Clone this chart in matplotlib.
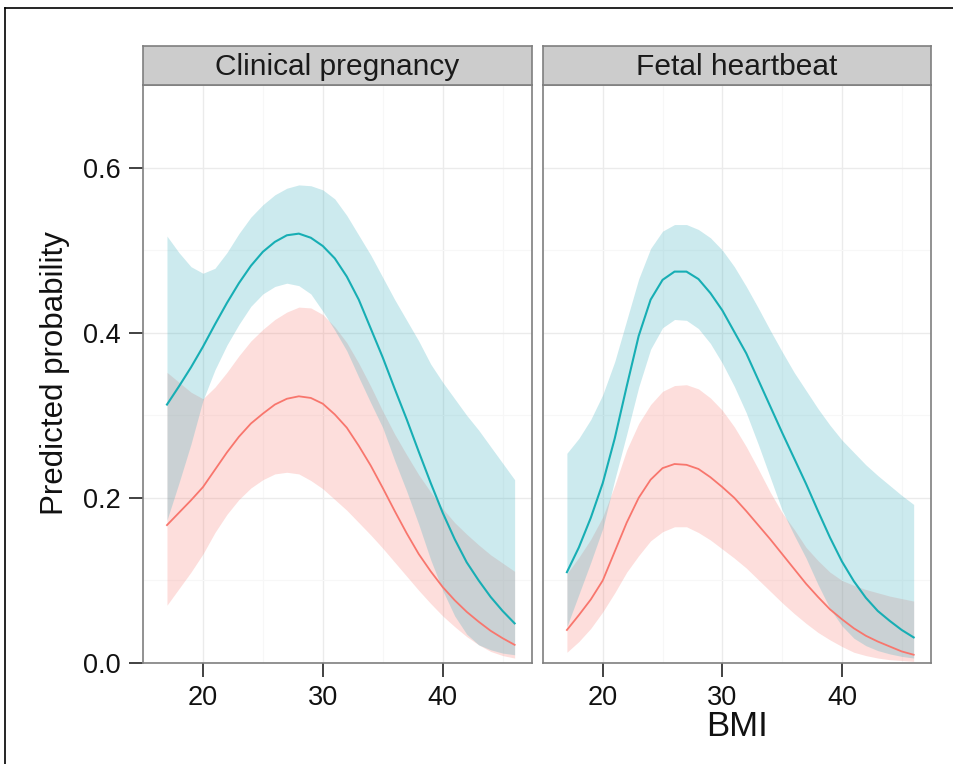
import numpy as np
import matplotlib
matplotlib.use("Agg")
import matplotlib.pyplot as plt
from matplotlib.lines import Line2D

plt.rcParams["font.family"] = ["Liberation Sans", "DejaVu Sans"]

# BMI grid shared by both panels
bmi = list(range(17, 47))

panels = ["Clinical pregnancy", "Fetal heartbeat"]

# Clinical pregnancy, teal group
cp_teal_fit = [0.313, 0.335, 0.358, 0.383, 0.410, 0.436, 0.460, 0.481, 0.498, 0.510,
               0.518, 0.520, 0.515, 0.505, 0.490, 0.468, 0.440, 0.405, 0.370, 0.332,
               0.295, 0.256, 0.218, 0.182, 0.150, 0.122, 0.100, 0.080, 0.063, 0.048]
cp_teal_hi = [0.517, 0.497, 0.480, 0.472, 0.478, 0.497, 0.520, 0.540, 0.555, 0.567,
              0.575, 0.579, 0.578, 0.573, 0.562, 0.542, 0.518, 0.494, 0.467, 0.440,
              0.415, 0.390, 0.362, 0.340, 0.320, 0.300, 0.282, 0.262, 0.242, 0.222]
cp_teal_lo = [0.173, 0.218, 0.265, 0.318, 0.355, 0.385, 0.410, 0.432, 0.447, 0.456,
              0.460, 0.457, 0.447, 0.426, 0.403, 0.378, 0.346, 0.315, 0.285, 0.245,
              0.208, 0.168, 0.125, 0.088, 0.057, 0.035, 0.022, 0.016, 0.012, 0.010]
# Clinical pregnancy, red group
cp_red_fit = [0.167, 0.182, 0.197, 0.213, 0.234, 0.255, 0.274, 0.290, 0.302, 0.313,
              0.320, 0.323, 0.321, 0.314, 0.301, 0.285, 0.263, 0.239, 0.212, 0.184,
              0.157, 0.132, 0.111, 0.092, 0.076, 0.062, 0.050, 0.039, 0.030, 0.022]
cp_red_hi = [0.352, 0.340, 0.328, 0.320, 0.334, 0.352, 0.372, 0.390, 0.404, 0.416,
             0.425, 0.431, 0.430, 0.422, 0.407, 0.388, 0.363, 0.335, 0.305, 0.277,
             0.252, 0.228, 0.207, 0.187, 0.170, 0.156, 0.143, 0.131, 0.121, 0.111]
cp_red_lo = [0.070, 0.090, 0.110, 0.132, 0.158, 0.180, 0.198, 0.212, 0.222, 0.229,
             0.231, 0.229, 0.221, 0.211, 0.198, 0.185, 0.170, 0.155, 0.139, 0.122,
             0.105, 0.088, 0.072, 0.057, 0.044, 0.032, 0.022, 0.014, 0.009, 0.006]

# Fetal heartbeat, teal group
fh_teal_fit = [0.110, 0.140, 0.176, 0.218, 0.272, 0.335, 0.396, 0.440, 0.464, 0.474,
               0.474, 0.465, 0.448, 0.427, 0.401, 0.375, 0.343, 0.311, 0.279, 0.248,
               0.217, 0.184, 0.152, 0.123, 0.099, 0.079, 0.063, 0.051, 0.040, 0.031]
fh_teal_hi = [0.254, 0.272, 0.295, 0.325, 0.365, 0.415, 0.465, 0.502, 0.523, 0.531,
              0.531, 0.525, 0.515, 0.500, 0.480, 0.456, 0.430, 0.403, 0.377, 0.352,
              0.330, 0.308, 0.288, 0.270, 0.255, 0.240, 0.227, 0.215, 0.203, 0.192]
fh_teal_lo = [0.044, 0.083, 0.122, 0.163, 0.222, 0.277, 0.334, 0.380, 0.406, 0.416,
              0.415, 0.405, 0.387, 0.363, 0.335, 0.303, 0.265, 0.225, 0.185, 0.155,
              0.127, 0.095, 0.066, 0.045, 0.030, 0.021, 0.015, 0.011, 0.008, 0.006]
# Fetal heartbeat, red group
fh_red_fit = [0.040, 0.058, 0.077, 0.100, 0.135, 0.170, 0.200, 0.222, 0.236, 0.241,
              0.240, 0.235, 0.225, 0.213, 0.200, 0.184, 0.167, 0.150, 0.132, 0.114,
              0.096, 0.080, 0.065, 0.053, 0.042, 0.033, 0.026, 0.020, 0.014, 0.010]
fh_red_hi = [0.108, 0.128, 0.150, 0.177, 0.215, 0.258, 0.290, 0.313, 0.329, 0.336,
             0.337, 0.332, 0.321, 0.306, 0.286, 0.262, 0.235, 0.207, 0.182, 0.162,
             0.140, 0.124, 0.110, 0.100, 0.094, 0.089, 0.085, 0.081, 0.078, 0.075]
fh_red_lo = [0.013, 0.026, 0.042, 0.062, 0.085, 0.110, 0.130, 0.148, 0.159, 0.165,
             0.165, 0.158, 0.149, 0.138, 0.127, 0.115, 0.101, 0.087, 0.073, 0.060,
             0.048, 0.037, 0.028, 0.020, 0.013, 0.009, 0.006, 0.004, 0.003, 0.002]

x_ticks = [20, 30, 40]
y_ticks = [0.0, 0.2, 0.4, 0.6]
y_tick_labels = ["0.0", "0.2", "0.4", "0.6"]

TEAL = "#00BFC4"
RED = "#F8766D"
W, H = 954, 764


def box(left, top, right, bottom):
    # pixel box -> figure fraction rect
    return (left / W, 1 - bottom / H, (right - left) / W, (bottom - top) / H)


def draw_panel(ax, teal, red):
    ax.set_xlim(15.55, 47.45)
    ax.set_ylim(0, 0.7)
    ax.set_xticks(x_ticks)
    ax.set_xticks([15, 25, 35, 45], minor=True)
    ax.set_yticks(y_ticks)
    ax.set_yticks([0.1, 0.3, 0.5, 0.7], minor=True)
    ax.grid(which="major", color="#EBEBEB", lw=1.0, zorder=0)
    ax.grid(which="minor", color="#F7F7F7", lw=0.8, zorder=0)
    ax.set_axisbelow(True)

    ax.fill_between(bmi, red[2], red[1], color=RED, alpha=0.24, lw=0, zorder=1)
    ax.fill_between(bmi, teal[2], teal[1], color="#3AAFBF", alpha=0.26, lw=0, zorder=2)
    ax.plot(bmi, red[0], color=RED, lw=1.3, zorder=3)
    ax.plot(bmi, teal[0], color="#17AEB4", lw=1.5, zorder=4)

    for s in ax.spines.values():
        s.set_color("#7F7F7F")
        s.set_linewidth(1.2)
    ax.tick_params(axis="both", which="major", length=10, width=1.3,
                   color="#333333", labelsize=19.5, labelcolor="#111111", pad=6)
    ax.tick_params(which="minor", length=0)


def draw_strip(rect, label):
    sax = fig.add_axes(rect)
    sax.set_facecolor("#CCCCCC")
    sax.set_xticks([])
    sax.set_yticks([])
    for s in sax.spines.values():
        s.set_color("#7F7F7F")
        s.set_linewidth(1.2)
    sax.text(0.5, 0.47, label, ha="center", va="center", fontsize=21.5,
             color="#1A1A1A", transform=sax.transAxes)


fig = plt.figure(figsize=(W / 100, H / 100), dpi=100)

ax1 = fig.add_axes(box(143, 85, 532, 663))
ax2 = fig.add_axes(box(543, 85, 931, 663))

draw_panel(ax1, (cp_teal_fit, cp_teal_hi, cp_teal_lo), (cp_red_fit, cp_red_hi, cp_red_lo))
draw_panel(ax2, (fh_teal_fit, fh_teal_hi, fh_teal_lo), (fh_red_fit, fh_red_hi, fh_red_lo))

ax1.set_yticklabels(y_tick_labels)
ax2.tick_params(axis="y", left=False, labelleft=False)

draw_strip(box(143, 46, 532, 85), panels[0])
draw_strip(box(543, 46, 931, 85), panels[1])

fig.text(55 / W, 1 - 373 / H, "Predicted probability", rotation=90,
         ha="center", va="center", fontsize=22.5, color="#111111")
fig.text(737 / W, 1 - 727 / H, "BMI", ha="center", va="center",
         fontsize=25, color="#111111")

# outer frame (only top and left edges fall inside the picture)
fig.add_artist(Line2D([5 / W, 5 / W], [0, 1 - 8 / H], color="black", lw=1.2))
fig.add_artist(Line2D([5 / W, 1], [1 - 8 / H, 1 - 8 / H], color="black", lw=1.2))

fig.savefig("out.png", dpi=100)
